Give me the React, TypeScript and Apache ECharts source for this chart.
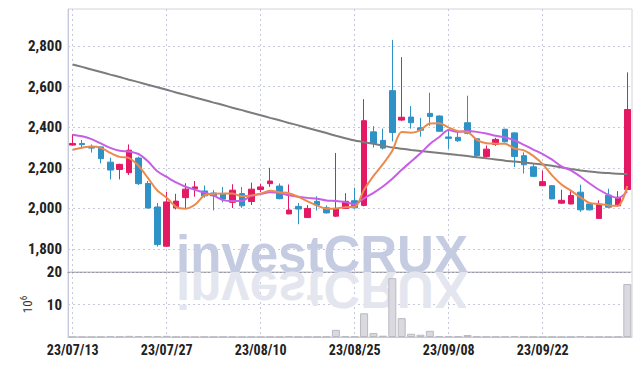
import React, { useEffect, useRef } from 'react';
import * as echarts from 'echarts';

const dates = [
  '23/07/13', '23/07/14', '23/07/17', '23/07/18', '23/07/19', '23/07/20', '23/07/21', '23/07/24', '23/07/25', '23/07/26',
  '23/07/27', '23/07/28', '23/07/31', '23/08/01', '23/08/02', '23/08/03', '23/08/04', '23/08/07', '23/08/08', '23/08/09',
  '23/08/10', '23/08/11', '23/08/14', '23/08/16', '23/08/17', '23/08/18', '23/08/21', '23/08/22', '23/08/23', '23/08/24',
  '23/08/25', '23/08/28', '23/08/29', '23/08/30', '23/08/31', '23/09/01', '23/09/04', '23/09/05', '23/09/06', '23/09/07',
  '23/09/08', '23/09/11', '23/09/12', '23/09/13', '23/09/14', '23/09/15', '23/09/18', '23/09/19', '23/09/20', '23/09/21',
  '23/09/22', '23/09/25', '23/09/26', '23/09/27', '23/10/04', '23/10/05', '23/10/06', '23/10/10', '23/10/11', '23/10/12',
];

const opens = [
  2312, 2320, 2302, 2303, 2228, 2192, 2176, 2248, 2123, 2007,
  1814, 2003, 2053, 2097, 2086, 2076, 2073, 2030, 2073, 2034,
  2093, 2122, 2110, 1973, 2010, 1955, 2035, 2003, 1962, 2000,
  2038, 2015, 2377, 2335, 2580, 2435, 2450, 2397, 2468, 2455,
  2352, 2350, 2422, 2343, 2256, 2315, 2390, 2372, 2260, 2205,
  2112, 2112, 2026, 2022, 2080, 2022, 1951, 2065, 2013, 2093,
];
const closes = [
  2320, 2314, 2297, 2245, 2189, 2217, 2287, 2122, 2002, 1822,
  2032, 2036, 2095, 2106, 2062, 2062, 2046, 2090, 2013, 2095,
  2106, 2135, 2048, 1992, 1997, 2000, 2016, 1978, 2000, 2035,
  2003, 2432, 2320, 2297, 2374, 2449, 2422, 2385, 2453, 2380,
  2345, 2333, 2370, 2260, 2292, 2340, 2328, 2256, 2215, 2158,
  2132, 2047, 2040, 2064, 1993, 1993, 2020, 2006, 2055, 2487,
];
const lows = [
  2310, 2300, 2275, 2222, 2143, 2143, 2165, 2115, 2000, 1812,
  1810, 1995, 2001, 2058, 2053, 1990, 2030, 2002, 2003, 2017,
  2080, 2106, 2045, 1972, 1922, 1953, 1990, 1975, 1958, 1998,
  2000, 2010, 2300, 2290, 2330, 2430, 2393, 2353, 2407, 2378,
  2293, 2328, 2365, 2255, 2250, 2308, 2325, 2204, 2172, 2155,
  2110, 2045, 2023, 2020, 1983, 1990, 1950, 2004, 2010, 2090,
];
const highs = [
  2365, 2337, 2315, 2305, 2250, 2220, 2315, 2255, 2135, 2027,
  2082, 2072, 2124, 2135, 2113, 2090, 2105, 2119, 2105, 2127,
  2122, 2200, 2123, 2118, 2027, 2016, 2060, 2015, 2273, 2075,
  2102, 2538, 2405, 2393, 2830, 2745, 2504, 2446, 2570, 2458,
  2385, 2385, 2555, 2345, 2310, 2348, 2392, 2375, 2276, 2222,
  2186, 2113, 2092, 2088, 2117, 2030, 2040, 2097, 2085, 2670,
];

const ma5 = [
  2289, 2299, 2305, 2298, 2274, 2254, 2248, 2210, 2150, 2088,
  2053, 2008, 1999, 2018, 2064, 2072, 2074, 2074, 2060, 2064,
  2073, 2087, 2080, 2075, 2057, 2035, 2014, 1999, 2000, 2006,
  2007, 2092, 2160, 2218, 2284, 2376, 2373, 2386, 2418, 2419,
  2398, 2380, 2376, 2338, 2321, 2319, 2318, 2295, 2286, 2259,
  2218, 2163, 2118, 2088, 2055, 2027, 2022, 2015, 2013, 2110,
];
const ma10 = [
  2363, 2355, 2341, 2320, 2298, 2284, 2280, 2268, 2232, 2183,
  2155, 2128, 2107, 2092, 2078, 2063, 2041, 2036, 2037, 2063,
  2071, 2080, 2076, 2065, 2058, 2052, 2048, 2039, 2037, 2031,
  2021, 2050, 2077, 2108, 2146, 2190, 2231, 2272, 2317, 2352,
  2386, 2377, 2381, 2377, 2369, 2358, 2349, 2336, 2313, 2290,
  2268, 2240, 2207, 2187, 2157, 2123, 2092, 2067, 2051, 2084,
];
const maLong = [
  2709, 2697, 2684, 2672, 2659, 2647, 2634, 2622, 2609, 2597,
  2584, 2571, 2559, 2546, 2534, 2521, 2509, 2496, 2484, 2471,
  2459, 2446, 2434, 2421, 2409, 2396, 2384, 2371, 2358, 2346,
  2334, 2326, 2318, 2309, 2300, 2294, 2288, 2283, 2278, 2273,
  2268, 2263, 2258, 2252, 2247, 2241, 2235, 2231, 2226, 2221,
  2216, 2210, 2202, 2194, 2187, 2182, 2177, 2174, 2171, 2170,
];

// volume in millions
const volumes = [
  0.05, 0.03, 0.03, 0.04, 0.3, 0.1, 0.35, 0.3, 0.3, 0.3,
  0.35, 0.05, 0.05, 0.03, 0.04, 0.03, 0.05, 0.04, 0.03, 0.04,
  0.03, 0.05, 0.04, 0.3, 0.05, 0.04, 0.05, 0.1, 2.2, 0.3,
  0.2, 7.3, 1.2, 0.4, 18.1, 5.8, 1.0, 0.7, 1.9, 0.3,
  0.3, 0.2, 0.6, 0.2, 0.1, 0.05, 0.1, 0.3, 0.05, 0.05,
  0.04, 0.05, 0.03, 0.04, 0.3, 0.05, 0.05, 0.04, 0.05, 16.3,
];

const priceTicks = [1800, 2000, 2200, 2400, 2600, 2800];
const volumeTicks = [10, 20];

const UP = '#e31a63';
const DOWN = '#2f92c6';
const GRIDLINE = '#c6c8dc';
const LABEL_FONT = "'Roboto Condensed', 'Liberation Sans Narrow', 'DejaVu Sans Condensed', 'Arial Narrow', Roboto, sans-serif";
const WM_FONT = 'bold 51px "Liberation Sans", Arial, sans-serif';

export default function App() {
  const ref = useRef<HTMLDivElement>(null);

  useEffect(() => {
    const chart = echarts.init(ref.current!, undefined, { renderer: 'svg' });
    const candles = dates.map((_, i) => [opens[i], closes[i], lows[i], highs[i]]);

    chart.setOption({
      animation: false,
      backgroundColor: '#ffffff',
      grid: [
        { left: 68, top: 9, width: 564, height: 263, show: true, borderColor: '#d4d4dc', borderWidth: 1 },
        { left: 68, top: 272, width: 564, height: 65, show: true, borderColor: '#d4d4dc', borderWidth: 1 },
      ],
      graphic: [
        {
          type: 'text', x: 176, y: 272, z: 1, silent: true,
          style: { text: 'investCRUX', x: 0, y: 8, font: WM_FONT, fill: '#c5cce2', verticalAlign: 'bottom' },
        },
        {
          type: 'text', x: 176, y: 272, scaleY: -1, z: 1, silent: true,
          style: { text: 'investCRUX', x: 0, y: 8, font: WM_FONT, fill: '#e4e6ef', verticalAlign: 'bottom' },
        },
      ],
      xAxis: [
        {
          type: 'category', gridIndex: 0, data: dates, boundaryGap: true,
          axisLine: { show: true, lineStyle: { color: '#9a9aa8', type: [2, 2] } },
          axisTick: { show: false }, axisLabel: { show: false },
          splitLine: { show: true, interval: 9, alignWithLabel: true, lineStyle: { color: GRIDLINE, type: [2, 3] } },
        },
        {
          type: 'category', gridIndex: 1, data: dates, boundaryGap: true,
          axisLine: { show: true, lineStyle: { color: '#c8c8d4' } },
          axisTick: { show: false },
          axisLabel: { interval: 9, fontFamily: LABEL_FONT, fontSize: 14, fontWeight: 'bold', color: '#222', margin: 6 },
          splitLine: { show: true, interval: 9, alignWithLabel: true, lineStyle: { color: GRIDLINE, type: [2, 3] } },
        },
      ],
      yAxis: [
        {
          type: 'value', gridIndex: 0, min: 1687, max: 2982, scale: true,
          axisLine: { show: true, lineStyle: { color: '#c8c8dc' } },
          axisTick: { show: false, customValues: priceTicks },
          axisLabel: {
            customValues: priceTicks, fontFamily: LABEL_FONT, fontSize: 15, fontWeight: 'bold', color: '#222', margin: 6,
            formatter: (v: number) => v.toLocaleString('en-US'),
          },
          splitLine: { show: true, lineStyle: { color: GRIDLINE, type: [2, 3] } },
        },
        {
          type: 'value', gridIndex: 1, min: 0, max: 20,
          name: '10{s|6}', nameLocation: 'middle', nameRotate: 90, nameGap: 32,
          nameTextStyle: { fontFamily: LABEL_FONT, fontSize: 13, color: '#333', rich: { s: { fontSize: 9, padding: [0, 0, 8, 0], fontFamily: LABEL_FONT, color: '#333' } } },
          axisLine: { show: true, lineStyle: { color: '#c8c8dc' } },
          axisTick: { show: false, customValues: volumeTicks },
          axisLabel: { customValues: volumeTicks, fontFamily: LABEL_FONT, fontSize: 15, fontWeight: 'bold', color: '#222', margin: 6 },
          splitLine: { show: true, lineStyle: { color: GRIDLINE, type: [2, 3] } },
        },
      ],
      series: [
        {
          type: 'candlestick', xAxisIndex: 0, yAxisIndex: 0, data: candles, barWidth: 6,
          itemStyle: { color: UP, color0: DOWN, borderColor: UP, borderColor0: DOWN, borderWidth: 1 },
        },
        {
          type: 'line', xAxisIndex: 0, yAxisIndex: 0, data: maLong, showSymbol: false, smooth: 0.2,
          lineStyle: { color: '#7c7c7c', width: 2 },
        },
        {
          type: 'line', xAxisIndex: 0, yAxisIndex: 0, data: ma10, showSymbol: false, smooth: 0.3,
          lineStyle: { color: '#c75ee6', width: 2 },
        },
        {
          type: 'line', xAxisIndex: 0, yAxisIndex: 0, data: ma5, showSymbol: false, smooth: 0.3,
          lineStyle: { color: '#ec8a4e', width: 2 },
        },
        {
          type: 'bar', xAxisIndex: 1, yAxisIndex: 1, data: volumes, barWidth: 8,
          itemStyle: { color: '#d9d9df', borderColor: '#b9b9c2', borderWidth: 1 },
        },
      ],
    });

    return () => chart.dispose();
  }, []);

  return <div ref={ref} style={{ position: 'fixed', left: 0, top: 0, width: 642, height: 366 }} />;
}
